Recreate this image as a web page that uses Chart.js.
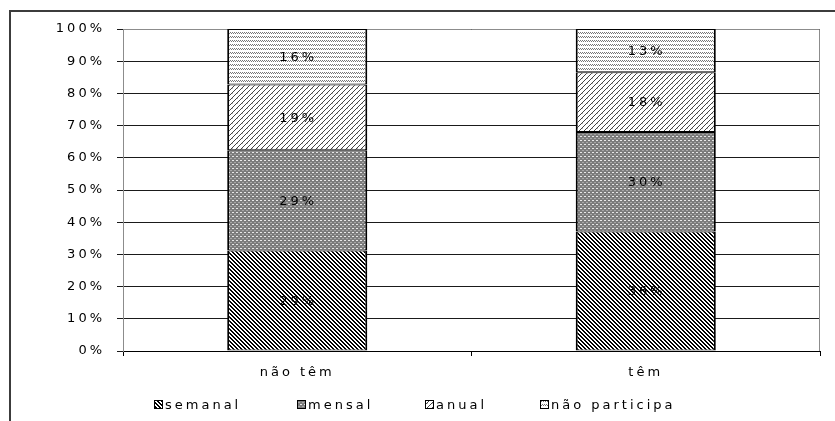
<!DOCTYPE html>
<html>
<head>
<meta charset="utf-8">
<script src="https://cdn.jsdelivr.net/npm/chart.js@4/dist/chart.umd.min.js"></script>
<style>
  html, body { margin: 0; padding: 0; background: #fff; }
  #wrap { width: 835px; height: 421px; position: relative; }
</style>
</head>
<body>
<div id="wrap"><canvas id="c" width="835" height="421"></canvas></div>
<script>
// Participation frequency, by group (values in %)
const categories = ['não têm', 'têm'];
const seriesNames = ['semanal', 'mensal', 'anual', 'não participa'];
const semanal = [29, 36];
const mensal = [29, 30];
const anual = [19, 18];
const naoParticipa = [16, 13];
const yTickLabels = ['0%', '10%', '20%', '30%', '40%', '50%', '60%', '70%', '80%', '90%', '100%'];

const seriesValues = [semanal, mensal, anual, naoParticipa];

// 100% stacking: each segment's share of its column total
const totals = categories.map((_, i) => seriesValues.reduce((s, arr) => s + arr[i], 0));
const shares = seriesValues.map(arr => arr.map((v, i) => v / totals[i] * 100));

const FONT = '"DejaVu Sans", "Liberation Sans", Arial, sans-serif';
const FONT_SIZE = 13;
const SPACING = '3px';

const canvas = document.getElementById('c');
const ctx = canvas.getContext('2d');

// Small pixel tiles used as hatch fills
function tile(w, h, bg, marks) {
  const t = document.createElement('canvas');
  t.width = w; t.height = h;
  const g = t.getContext('2d');
  g.fillStyle = bg;
  g.fillRect(0, 0, w, h);
  marks.forEach(([x, y, col]) => { g.fillStyle = col; g.fillRect(x, y, 1, 1); });
  return ctx.createPattern(t, 'repeat');
}

// back-diagonal stripes
const patSemanal = tile(4, 4, '#fff', [
  [0, 0, '#000'], [1, 0, '#000'],
  [1, 1, '#000'], [2, 1, '#000'],
  [2, 2, '#000'], [3, 2, '#000'],
  [3, 3, '#000'], [0, 3, '#000']
]);
// grey with light dots
const patMensal = tile(4, 4, '#7c7c7c', [
  [0, 0, '#e8e8e8'], [1, 0, '#e8e8e8'],
  [2, 2, '#a8a8a8'], [3, 2, '#a8a8a8']
]);
// forward-diagonal thin lines
const patAnual = tile(5, 5, '#fff', [
  [4, 0, '#444'],
  [3, 1, '#444'],
  [2, 2, '#444'],
  [1, 3, '#444'], [2, 3, '#bbb'],
  [0, 4, '#444']
]);
// small zigzag rows
const patNao = tile(4, 4, '#fff', [
  [0, 0, '#777'], [1, 1, '#777'],
  [2, 0, '#777'], [3, 1, '#777']
]);
const patterns = [patSemanal, patMensal, patAnual, patNao];

const datasets = seriesNames.map((name, k) => ({
  label: name,
  data: shares[k],
  rawValues: seriesValues[k],
  backgroundColor: patterns[k],
  borderColor: '#000',
  borderWidth: { left: 2, right: 2, top: 1, bottom: 1 },
  borderSkipped: false,
  categoryPercentage: 1,
  barPercentage: 0.402
}));

// letter spacing on the shared context (reset whenever the canvas is resized)
const spacingPlugin = {
  id: 'spacing',
  beforeUpdate(chart) { chart.ctx.letterSpacing = SPACING; },
  beforeDraw(chart) { chart.ctx.letterSpacing = SPACING; }
};

// grey frame around the plot area
const plotFrame = {
  id: 'plotFrame',
  beforeDatasetsDraw(chart) {
    const { left, right, top, bottom } = chart.chartArea;
    const c = chart.ctx;
    c.save();
    c.strokeStyle = '#8c8c8c';
    c.lineWidth = 1;
    c.beginPath();
    c.moveTo(left + 0.5, bottom);
    c.lineTo(left + 0.5, top + 0.5);
    c.lineTo(right - 0.5, top + 0.5);
    c.lineTo(right - 0.5, bottom);
    c.stroke();
    c.restore();
  }
};

// value labels centred in each segment
const valueLabels = {
  id: 'valueLabels',
  afterDatasetsDraw(chart) {
    const c = chart.ctx;
    c.save();
    c.letterSpacing = SPACING;
    c.font = FONT_SIZE + 'px ' + FONT;
    c.fillStyle = '#000';
    c.textAlign = 'center';
    c.textBaseline = 'middle';
    chart.data.datasets.forEach((ds, di) => {
      chart.getDatasetMeta(di).data.forEach((bar, i) => {
        const p = bar.getProps(['x', 'y', 'base'], true);
        c.fillText(ds.rawValues[i] + '%', p.x + 1, (p.y + p.base) / 2 + 1);
      });
    });
    c.restore();
  }
};

// legend row and outer border
const legendRow = {
  id: 'legendRow',
  afterDraw(chart) {
    const c = chart.ctx;
    const xs = [154, 297, 425, 540];
    const yMid = 405;
    const box = 9;
    c.save();
    c.letterSpacing = SPACING;
    c.font = FONT_SIZE + 'px ' + FONT;
    c.textBaseline = 'middle';
    c.textAlign = 'left';
    chart.data.datasets.forEach((ds, i) => {
      const x = xs[i];
      c.fillStyle = ds.backgroundColor;
      c.fillRect(x, yMid - 5, box, box);
      c.strokeStyle = '#000';
      c.lineWidth = 1;
      c.strokeRect(x + 0.5, yMid - 5 + 0.5, box - 1, box - 1);
      c.fillStyle = '#000';
      c.fillText(ds.label, x + box + 2, yMid + 1);
    });
    c.fillStyle = '#3c3c3c';
    c.fillRect(9, 10, 2, 411);
    c.fillRect(9, 10, 826, 2);
    c.restore();
  }
};

new Chart(ctx, {
  type: 'bar',
  data: { labels: categories, datasets },
  options: {
    responsive: false,
    animation: false,
    layout: { padding: { top: 29, right: 15, bottom: 0, left: 0 } },
    plugins: {
      legend: { display: false },
      tooltip: { enabled: false }
    },
    scales: {
      x: {
        stacked: true,
        afterFit(scale) { scale.height = 70; },
        grid: { display: true, drawOnChartArea: false, offset: true, tickLength: 5, color: '#000', lineWidth: 1 },
        border: { display: true, color: '#000', width: 1 },
        ticks: { color: '#000', padding: 9, font: { size: FONT_SIZE, family: FONT } }
      },
      y: {
        stacked: true,
        min: 0,
        max: 100,
        afterFit(scale) { scale.width = 123; },
        grid: { color: '#1a1a1a', lineWidth: 1, tickLength: 6, drawTicks: true },
        border: { display: true, color: '#8c8c8c', width: 1 },
        ticks: {
          stepSize: 10,
          color: '#000',
          padding: 12,
          font: { size: FONT_SIZE, family: FONT },
          callback: (v, i) => yTickLabels[i]
        }
      }
    }
  },
  plugins: [spacingPlugin, plotFrame, valueLabels, legendRow]
});
</script>
</body>
</html>
